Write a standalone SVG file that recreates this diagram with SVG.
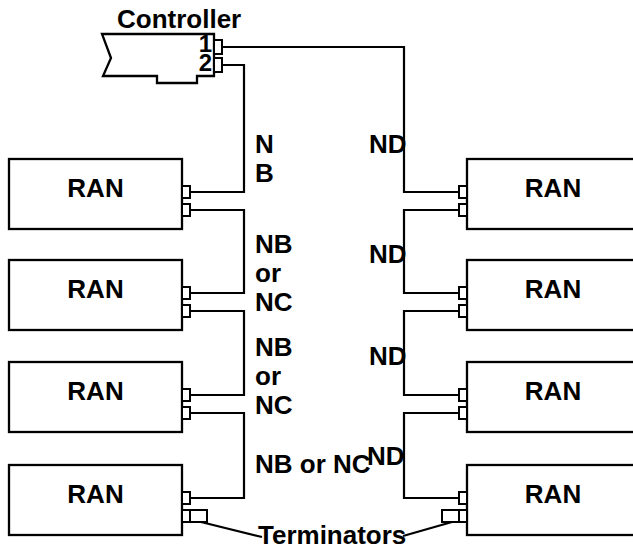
<svg xmlns="http://www.w3.org/2000/svg" width="633" height="548" viewBox="0 0 633 548">
<style>
.s{fill:#fff;stroke:#000;stroke-width:2.3}
.c{fill:none;stroke:#000;stroke-width:2.2}
.p{fill:#fff;stroke:#000;stroke-width:2}
text{font-family:"Liberation Sans",Arial,sans-serif;font-weight:bold;font-size:26px;fill:#000}
.m{text-anchor:middle}
.d{font-size:24px}
</style>
<rect width="633" height="548" fill="#fff"/>
<g id="connectors">
<polyline class="c" points="222,47 404,47 404,192 459,192"/>
<polyline class="c" points="222,65 244,65 244,192 190,192"/>
<polyline class="c" points="190,210 244,210 244,293 190,293"/>
<polyline class="c" points="190,311 244,311 244,395 190,395"/>
<polyline class="c" points="190,413 244,413 244,498 190,498"/>
<polyline class="c" points="459,210 404,210 404,293 459,293"/>
<polyline class="c" points="459,311 404,311 404,395 459,395"/>
<polyline class="c" points="459,413 404,413 404,498 459,498"/>
<line class="c" x1="201" y1="522" x2="262" y2="537"/>
<line class="c" x1="452" y1="522" x2="403" y2="536"/>
</g>
<g id="controller">
<path class="s" d="M102,34 L214,34 L214,76 L197,76 L197,83 L157,83 L157,76 L103,76 L111,58 Z"/>
<rect class="p" x="214" y="40" width="8" height="14"/>
<rect class="p" x="214" y="58" width="8" height="14"/>
<text x="117" y="28">Controller</text>
<text class="d" x="212" y="52" text-anchor="end">1</text>
<text class="d" x="212" y="71" text-anchor="end">2</text>
</g>
<g id="ran-l1">
<rect class="s" x="9" y="159" width="173" height="70"/>
<rect class="p" x="182" y="186" width="8" height="12"/>
<rect class="p" x="182" y="204" width="8" height="12"/>
<text class="m" x="95.5" y="197">RAN</text>
</g>
<g id="ran-l2">
<rect class="s" x="9" y="260" width="173" height="70"/>
<rect class="p" x="182" y="287" width="8" height="12"/>
<rect class="p" x="182" y="305" width="8" height="12"/>
<text class="m" x="95.5" y="298">RAN</text>
</g>
<g id="ran-l3">
<rect class="s" x="9" y="362" width="173" height="70"/>
<rect class="p" x="182" y="389" width="8" height="12"/>
<rect class="p" x="182" y="407" width="8" height="12"/>
<text class="m" x="95.5" y="400">RAN</text>
</g>
<g id="ran-l4">
<rect class="s" x="9" y="465" width="173" height="70"/>
<rect class="p" x="182" y="492" width="8" height="12"/>
<rect class="p" x="182" y="510" width="8" height="12"/>
<rect class="p" x="190" y="510" width="17" height="12"/>
<text class="m" x="95.5" y="503">RAN</text>
</g>
<g id="ran-r1">
<rect class="s" x="467" y="159" width="200" height="70"/>
<rect class="p" x="459" y="186" width="8" height="12"/>
<rect class="p" x="459" y="204" width="8" height="12"/>
<text class="m" x="553" y="197">RAN</text>
</g>
<g id="ran-r2">
<rect class="s" x="467" y="260" width="200" height="70"/>
<rect class="p" x="459" y="287" width="8" height="12"/>
<rect class="p" x="459" y="305" width="8" height="12"/>
<text class="m" x="553" y="298">RAN</text>
</g>
<g id="ran-r3">
<rect class="s" x="467" y="362" width="200" height="70"/>
<rect class="p" x="459" y="389" width="8" height="12"/>
<rect class="p" x="459" y="407" width="8" height="12"/>
<text class="m" x="553" y="400">RAN</text>
</g>
<g id="ran-r4">
<rect class="s" x="467" y="465" width="200" height="70"/>
<rect class="p" x="459" y="492" width="8" height="12"/>
<rect class="p" x="459" y="510" width="8" height="12"/>
<rect class="p" x="442" y="510" width="17" height="12"/>
<text class="m" x="553" y="503">RAN</text>
</g>
<g id="labels">
<text x="255" y="153">N</text>
<text x="255" y="182">B</text>
<text x="255" y="253">NB</text>
<text x="255" y="282">or</text>
<text x="255" y="311">NC</text>
<text x="255" y="356">NB</text>
<text x="255" y="385">or</text>
<text x="255" y="414">NC</text>
<text x="255" y="473">NB or NC</text>
<text x="369" y="153">ND</text>
<text x="369" y="263">ND</text>
<text x="369" y="365">ND</text>
<text x="367" y="465">ND</text>
<text x="258" y="544">Terminators</text>
</g>
</svg>
